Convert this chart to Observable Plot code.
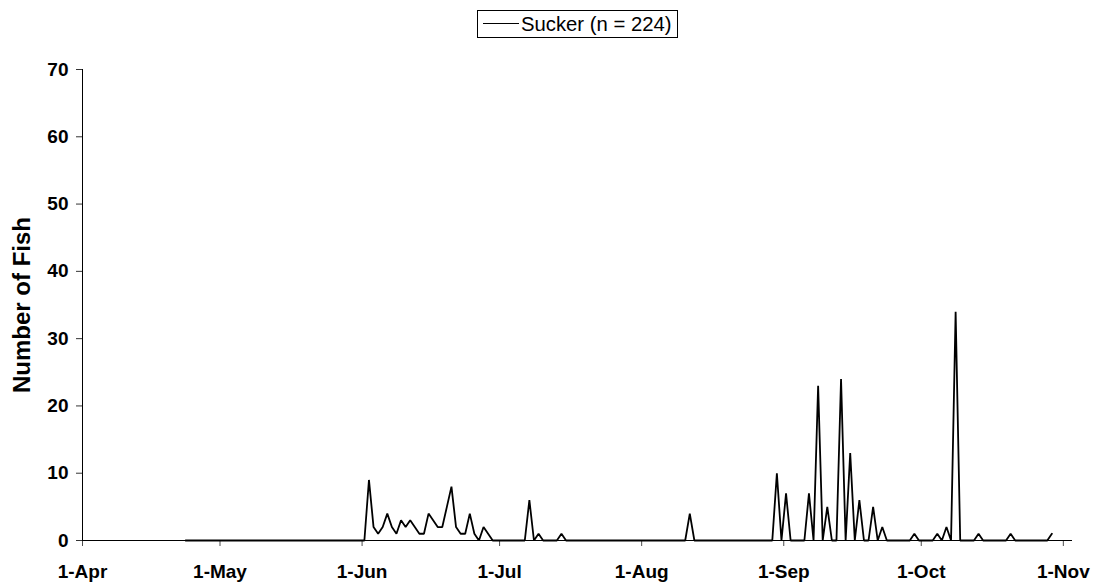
<!DOCTYPE html>
<html>
<head>
<meta charset="utf-8">
<script src="https://cdn.jsdelivr.net/npm/d3@7"></script>
<script src="https://cdn.jsdelivr.net/npm/@observablehq/plot@0.6"></script>
<style>
  body { margin: 0; background: #fff; font-family: "Liberation Sans", Arial, sans-serif; }
  #legend { position: relative; width: 1096px; height: 48px; }
  #legend .box { position: absolute; left: 477px; top: 10px; width: 199px; height: 26px; border: 1px solid #000; }
  #legend .swatch { position: absolute; left: 5px; top: 12px; width: 36px; height: 0; border-top: 1.7px solid #000; }
  #legend .label { position: absolute; left: 43px; top: 0; height: 26px; line-height: 26px; font-size: 20.3px; color: #000; white-space: nowrap; }
  #chart svg { display: block; }
</style>
</head>
<body>
<div id="legend"><div class="box"><span class="swatch"></span><span class="label"></span></div></div>
<div id="chart"></div>
<script>
const seriesName = "Sucker (n = 224)";
const yTitle = "Number of Fish";
const year = 2000;

// Daily counts, month by month (startDay = first day shown in that month)
const aprStart = 23;
const aprCounts = [0,0,0,0,0,0,0,0];
const mayCounts = [0,0,0,0,0,0,0,0,0,0,0,0,0,0,0,0,0,0,0,0,0,0,0,0,0,0,0,0,0,0,0];
const junCounts = [0,9,2,1,2,4,2,1,3,2,3,2,1,1,4,3,2,2,5,8,2,1,1,4,1,0,2,1,0,0];
const julCounts = [0,0,0,0,0,0,6,0,1,0,0,0,0,1,0,0,0,0,0,0,0,0,0,0,0,0,0,0,0,0,0];
const augCounts = [0,0,0,0,0,0,0,0,0,0,4,0,0,0,0,0,0,0,0,0,0,0,0,0,0,0,0,0,0,10,0];
const sepCounts = [7,0,0,0,0,7,0,23,0,5,0,0,24,0,13,0,6,0,0,5,0,2,0,0,0,0,0,0,1,0];
const octCounts = [0,0,0,1,0,2,0,34,0,0,0,0,1,0,0,0,0,0,0,1,0,0,0,0,0,0,0,0,1];

const tickLabels = ["1-Apr","1-May","1-Jun","1-Jul","1-Aug","1-Sep","1-Oct","1-Nov"];
const tickMonths = [3,4,5,6,7,8,9,10];
const yTicks = [0,10,20,30,40,50,60,70];

const months = [
  {m: 3, start: aprStart, counts: aprCounts},
  {m: 4, start: 1, counts: mayCounts},
  {m: 5, start: 1, counts: junCounts},
  {m: 6, start: 1, counts: julCounts},
  {m: 7, start: 1, counts: augCounts},
  {m: 8, start: 1, counts: sepCounts},
  {m: 9, start: 1, counts: octCounts}
];
const data = months.flatMap(({m, start, counts}) =>
  counts.map((v, i) => ({date: new Date(Date.UTC(year, m, start + i, 12)), count: v})));

const tickDates = tickMonths.map(m => new Date(Date.UTC(year, m, 1)));
const labelOf = new Map(tickDates.map((d, i) => [+d, tickLabels[i]]));

document.querySelector("#legend .label").textContent = seriesName;

const plot = Plot.plot({
  width: 1096,
  height: 534,
  marginLeft: 82,
  marginRight: 24,
  marginTop: 21,
  marginBottom: 42,
  style: {fontFamily: "Liberation Sans, Arial, sans-serif", color: "#000", background: "#fff"},
  x: {type: "utc", domain: [new Date(Date.UTC(year, 3, 1)), new Date(Date.UTC(year, 10, 3))]},
  y: {domain: [0, 70]},
  marks: [
    Plot.axisX({ticks: tickDates, tickFormat: d => labelOf.get(+d), tickSize: 6, tickPadding: 18,
      fontSize: 19, fontWeight: "bold", label: null, stroke: "#000", strokeOpacity: 0.7}),
    Plot.axisY({ticks: yTicks, tickSize: 6, tickPadding: 8, fontSize: 19, fontWeight: "bold",
      label: null, stroke: "#000", strokeOpacity: 0.8}),
    Plot.ruleY([0], {stroke: "#000", strokeWidth: 1}),
    Plot.ruleX([new Date(Date.UTC(year, 3, 1))], {y1: 0, y2: 70, stroke: "#000", strokeWidth: 1}),
    Plot.line(data, {x: "date", y: "count", stroke: "#000", strokeWidth: 1.8, strokeLinejoin: "miter"}),
    Plot.text([yTitle], {frameAnchor: "left", rotate: -90, dx: -60, textAnchor: "middle", lineAnchor: "middle",
      fontSize: 24, fontFamily: "Liberation Sans, Arial, sans-serif", fontWeight: "bold", fill: "#000"})
  ]
});
document.getElementById("chart").appendChild(plot);
</script>
</body>
</html>
